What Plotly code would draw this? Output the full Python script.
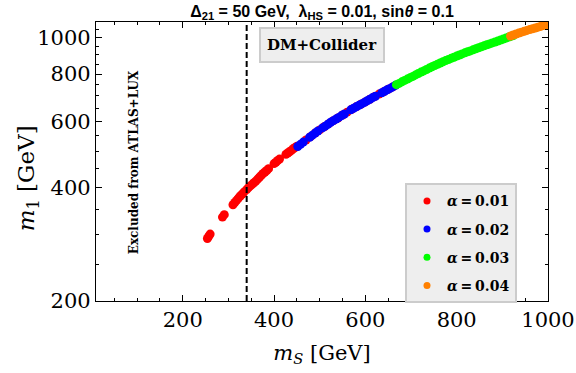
import plotly.graph_objects as go

exclusion_mS = 340

red_mS = [254, 257, 260, 287, 291,
          310, 314, 318, 322, 326, 330, 334,
          340, 344, 348, 352, 356, 360, 364, 368, 372, 376, 380, 384, 388,
          400, 404, 408, 412,
          426, 430, 434, 438, 442, 446, 450,
          470, 480, 490, 500, 510, 520, 530, 540, 550, 560, 570, 580,
          590, 600, 610, 620, 630, 640, 650, 660]
red_m1 = [293, 297, 301, 334, 339,
          360, 365, 370, 375, 380, 384, 389,
          395, 400, 404, 408, 412, 416, 421, 426, 431, 436, 440, 444, 449,
          463, 467, 472, 476,
          490, 494, 498, 502, 507, 511, 515,
          535, 546, 558, 569, 580, 591, 602, 612, 623, 634, 645, 655,
          665, 675, 686, 697, 708, 718, 729, 740]

blue_mS = [452, 458, 464, 478, 484, 490, 496, 506, 512, 518, 524, 530, 536,
           542, 548, 554, 568, 574, 580, 586, 592, 598, 604, 610, 616, 622,
           636, 642, 648, 654, 660, 666]
blue_m1 = [514, 521, 528, 544, 551, 558, 565, 576, 582, 589, 596, 602, 608,
           614, 621, 627, 643, 649, 655, 661, 667, 673, 680, 686, 693, 699,
           714, 720, 727, 733, 740, 747]

green_mS = [668, 674, 680, 686, 692, 698, 704, 710, 716, 722, 728, 734, 740,
            746, 752, 758, 764, 770, 776, 782, 788, 794, 800, 806, 812, 818,
            824, 830, 836, 842, 848, 854, 860, 866, 872, 878, 884, 890, 896,
            902, 908, 914, 920, 924]
green_m1 = [750, 756, 763, 770, 776, 783, 789, 796, 803, 810, 816, 823, 830,
            837, 843, 850, 856, 863, 869, 875, 881, 887, 893, 899, 905, 911,
            917, 922, 928, 934, 940, 945, 951, 957, 962, 968, 973, 979, 985,
            991, 997, 1003, 1009, 1013]

orange_mS = [918, 924, 930, 936, 942, 948, 954, 960, 966, 972, 978, 984, 990,
             996, 1000]
orange_m1 = [1010, 1016, 1022, 1028, 1034, 1039, 1045, 1050, 1055, 1060, 1066,
             1071, 1076, 1081, 1084]

series = [
    ("0.01", "#ff0000", red_mS, red_m1),
    ("0.02", "#0000ff", blue_mS, blue_m1),
    ("0.03", "#00ff00", green_mS, green_m1),
    ("0.04", "#ff8000", orange_mS, orange_m1),
]

x_ticks = [200, 400, 600, 800, 1000]
y_ticks = [200, 400, 600, 800, 1000]
y_minor = [250, 300, 350, 450, 500, 550, 650, 700, 750, 850, 900, 950, 1050]

serif = "DejaVu Serif"

fig = go.Figure()
for alpha, col, xs, ys in series:
    fig.add_trace(go.Scatter(x=xs, y=ys, mode="markers", showlegend=False,
                             marker=dict(color=col, size=9)))
# small dots for the legend only
for alpha, col, xs, ys in series:
    fig.add_trace(go.Scatter(x=[None], y=[None], mode="markers",
                             name="<i>α</i>\u2009=\u2009" + alpha, legendgroup=alpha,
                             marker=dict(color=col, size=7)))

fig.add_vline(x=exclusion_mS, line=dict(color="black", width=2, dash="6px,3px"))

fig.add_annotation(text="<b>DM+Collider</b>", xref="paper", yref="paper",
                   x=(322 - 96) / 452, y=(300.5 - 45) / 278.5,
                   xanchor="center", yanchor="middle",
                   showarrow=False, font=dict(family=serif, size=15, color="black"),
                   bgcolor="#eeeeee", bordercolor="#cccccc", borderwidth=2,
                   width=120, height=30)
fig.add_annotation(text="<b>Excluded from ATLAS+LUX</b>", xref="paper", yref="paper",
                   x=(134 - 96) / 452, y=(300.5 - 162) / 278.5, textangle=-90,
                   xanchor="center", yanchor="middle",
                   showarrow=False, font=dict(family=serif, size=12, color="black"))
# y-axis title
fig.add_annotation(text="<i>m</i><sub>1</sub> [GeV]", xref="paper", yref="paper",
                   x=(28 - 96) / 452, y=(300.5 - 178) / 278.5, textangle=-90,
                   xanchor="center", yanchor="middle",
                   showarrow=False, font=dict(family=serif, size=23, color="black"))

axis_common = dict(showline=True, linecolor="black", linewidth=1.3, mirror="allticks",
                   ticks="inside", ticklen=6, tickwidth=1, tickcolor="black",
                   showgrid=False, zeroline=False, automargin=False,
                   tickfont=dict(family=serif, size=21, color="black"))

fig.update_xaxes(range=[10, 1000], tickvals=x_ticks,
                 minor=dict(ticks="inside", dtick=50, tick0=0, ticklen=3, tickcolor="black"),
                 title=dict(text="<i>m</i><sub><i>S</i></sub> [GeV]",
                            font=dict(family=serif, size=21, color="black"), standoff=13),
                 **axis_common)
fig.update_yaxes(type="log", range=[2.30103, 3.0414], tickvals=y_ticks,
                 minor=dict(ticks="inside", tickvals=y_minor, ticklen=3, tickcolor="black"),
                 **axis_common)

fig.update_layout(
    width=576, height=373,
    margin=dict(l=96, r=28, t=22, b=72),
    plot_bgcolor="white", paper_bgcolor="white",
    title=dict(text="<b>Δ<sub>21</sub> = 50 GeV,  λ<sub>HS</sub> = 0.01, sin<i>θ</i> = 0.1</b>",
               x=322 / 576, xanchor="center", y=1 - 11.5 / 373, yanchor="middle",
               font=dict(family="Liberation Sans", size=16, color="black")),
    legend=dict(x=(405 - 96) / 452, y=(300.5 - 183) / 278.5, xanchor="left", yanchor="top",
                bgcolor="#eeeeee", bordercolor="#cccccc", borderwidth=2,
                font=dict(family=serif, size=14, color="black", weight="bold"),
                tracegroupgap=7, itemwidth=30),
)

fig.write_html("out.html", config={"displayModeBar": False},
               post_script="document.body.style.margin='0px';")
